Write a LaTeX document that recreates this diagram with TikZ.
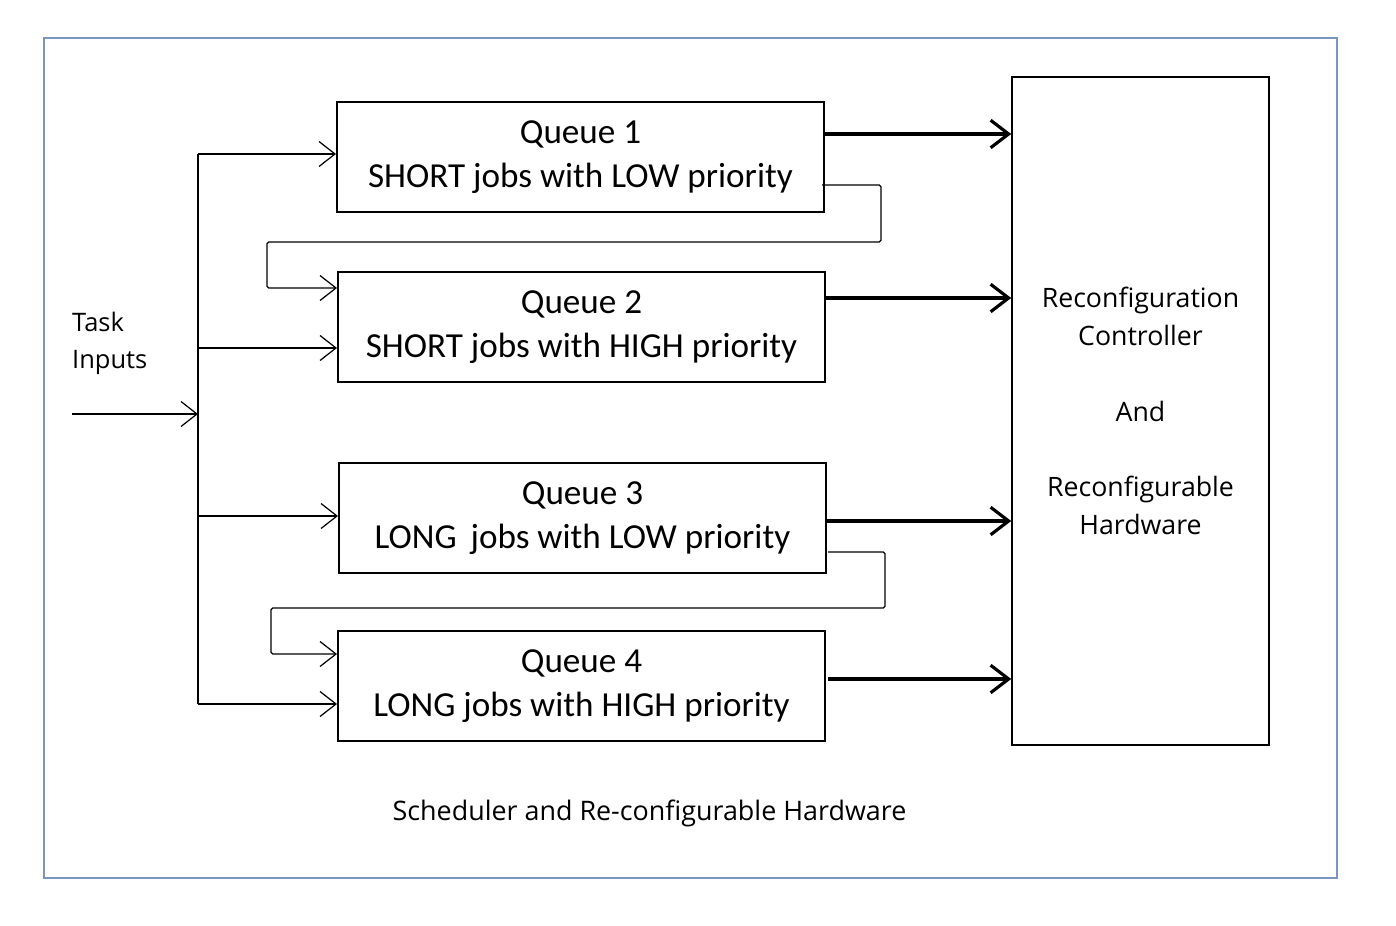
\documentclass[tikz,border=0pt]{standalone}
\usepackage{fontspec}
\setmainfont{Carlito}
\newfontfamily\uifont{Open Sans}
\usepackage{xcolor}
\usetikzlibrary{arrows.meta, positioning, calc}
\definecolor{framecol}{RGB}{122,150,192}

\begin{document}
\begin{tikzpicture}[x=0.02cm, y=-0.02cm,
    queue/.style={draw, line width=0.9pt, minimum width=9.75cm, minimum height=2.2cm,
                  align=center, font=\fontsize{20}{25}\selectfont},
    hwbox/.style={draw, line width=0.9pt, minimum width=5.14cm, minimum height=13.36cm,
                  align=center, font=\uifont\fontsize{15.2}{21.5}\selectfont},
    label/.style={align=left, font=\uifont\fontsize{14.5}{21}\selectfont},
    link/.style={line width=0.7pt, -{Straight Barb[length=3.2mm, width=5mm]}},
    feed/.style={line width=0.7pt, rounded corners=1pt, -{Straight Barb[length=3.2mm, width=5mm]}},
    bold/.style={line width=1.8pt, -{Straight Barb[length=3.6mm, width=5.5mm]}}]

    % Page and outer frame
    \useasboundingbox (0,0) rectangle (1396,926);
    \draw[framecol, line width=1pt] (44,38) rectangle (1337,878);

    % Queues
    \node[queue] (q1) at (580.5,157) {Queue 1\\SHORT jobs with LOW priority};
    \node[queue] (q2) at (581.5,327) {Queue 2\\SHORT jobs with HIGH priority};
    \node[queue] (q3) at (582.5,518) {Queue 3\\LONG\, jobs with LOW priority};
    \node[queue] (q4) at (581.5,686) {Queue 4\\LONG jobs with HIGH priority};

    % Controller and hardware
    \node[hwbox] (hw) at (1140.5,411) {Reconfiguration\\Controller\\[21.5pt]And\\[21.5pt]Reconfigurable\\Hardware};

    % Input side
    \node[label, anchor=west] (task) at (66,343.5) {Task\\Inputs};
    \coordinate (in) at (72,414);
    \coordinate (bustop) at (198,154);
    \coordinate (busbot) at (198,704);
    \draw[line width=0.7pt] (bustop) -- (busbot);
    \draw[link] (in) -- (in -| bustop);

    % Branches from the bus
    \draw[link] (bustop) -- (q1.west |- bustop);
    \draw[link] (bustop |- 0,348) -- (q2.west |- 0,348);
    \draw[link] (bustop |- 0,516) -- (q3.west |- 0,516);
    \draw[link] (busbot) -- (q4.west |- busbot);

    % Re-queue paths
    \coordinate (fa) at (881,242);
    \coordinate (fb) at (267,242);
    \draw[feed] (822,185) -| (fa) -- (fb) |- (q2.west |- 0,288);
    \coordinate (fc) at (885,608);
    \coordinate (fd) at (271,608);
    \draw[feed] (828,552) -| (fc) -- (fd) |- (q4.west |- 0,654);

    % Outputs to hardware
    \draw[bold] (q1.east |- 0,134) -- (hw.west |- 0,134);
    \draw[bold] (q2.east |- 0,298) -- (hw.west |- 0,298);
    \draw[bold] (q3.east |- 0,521) -- (hw.west |- 0,521);
    \draw[bold] (828,679) -- (hw.west |- 0,679);

    % Caption
    \node[label, font=\uifont\fontsize{15.3}{21}\selectfont] (caption) at (649.5,813) {Scheduler and Re-configurable Hardware};
\end{tikzpicture}
\end{document}
